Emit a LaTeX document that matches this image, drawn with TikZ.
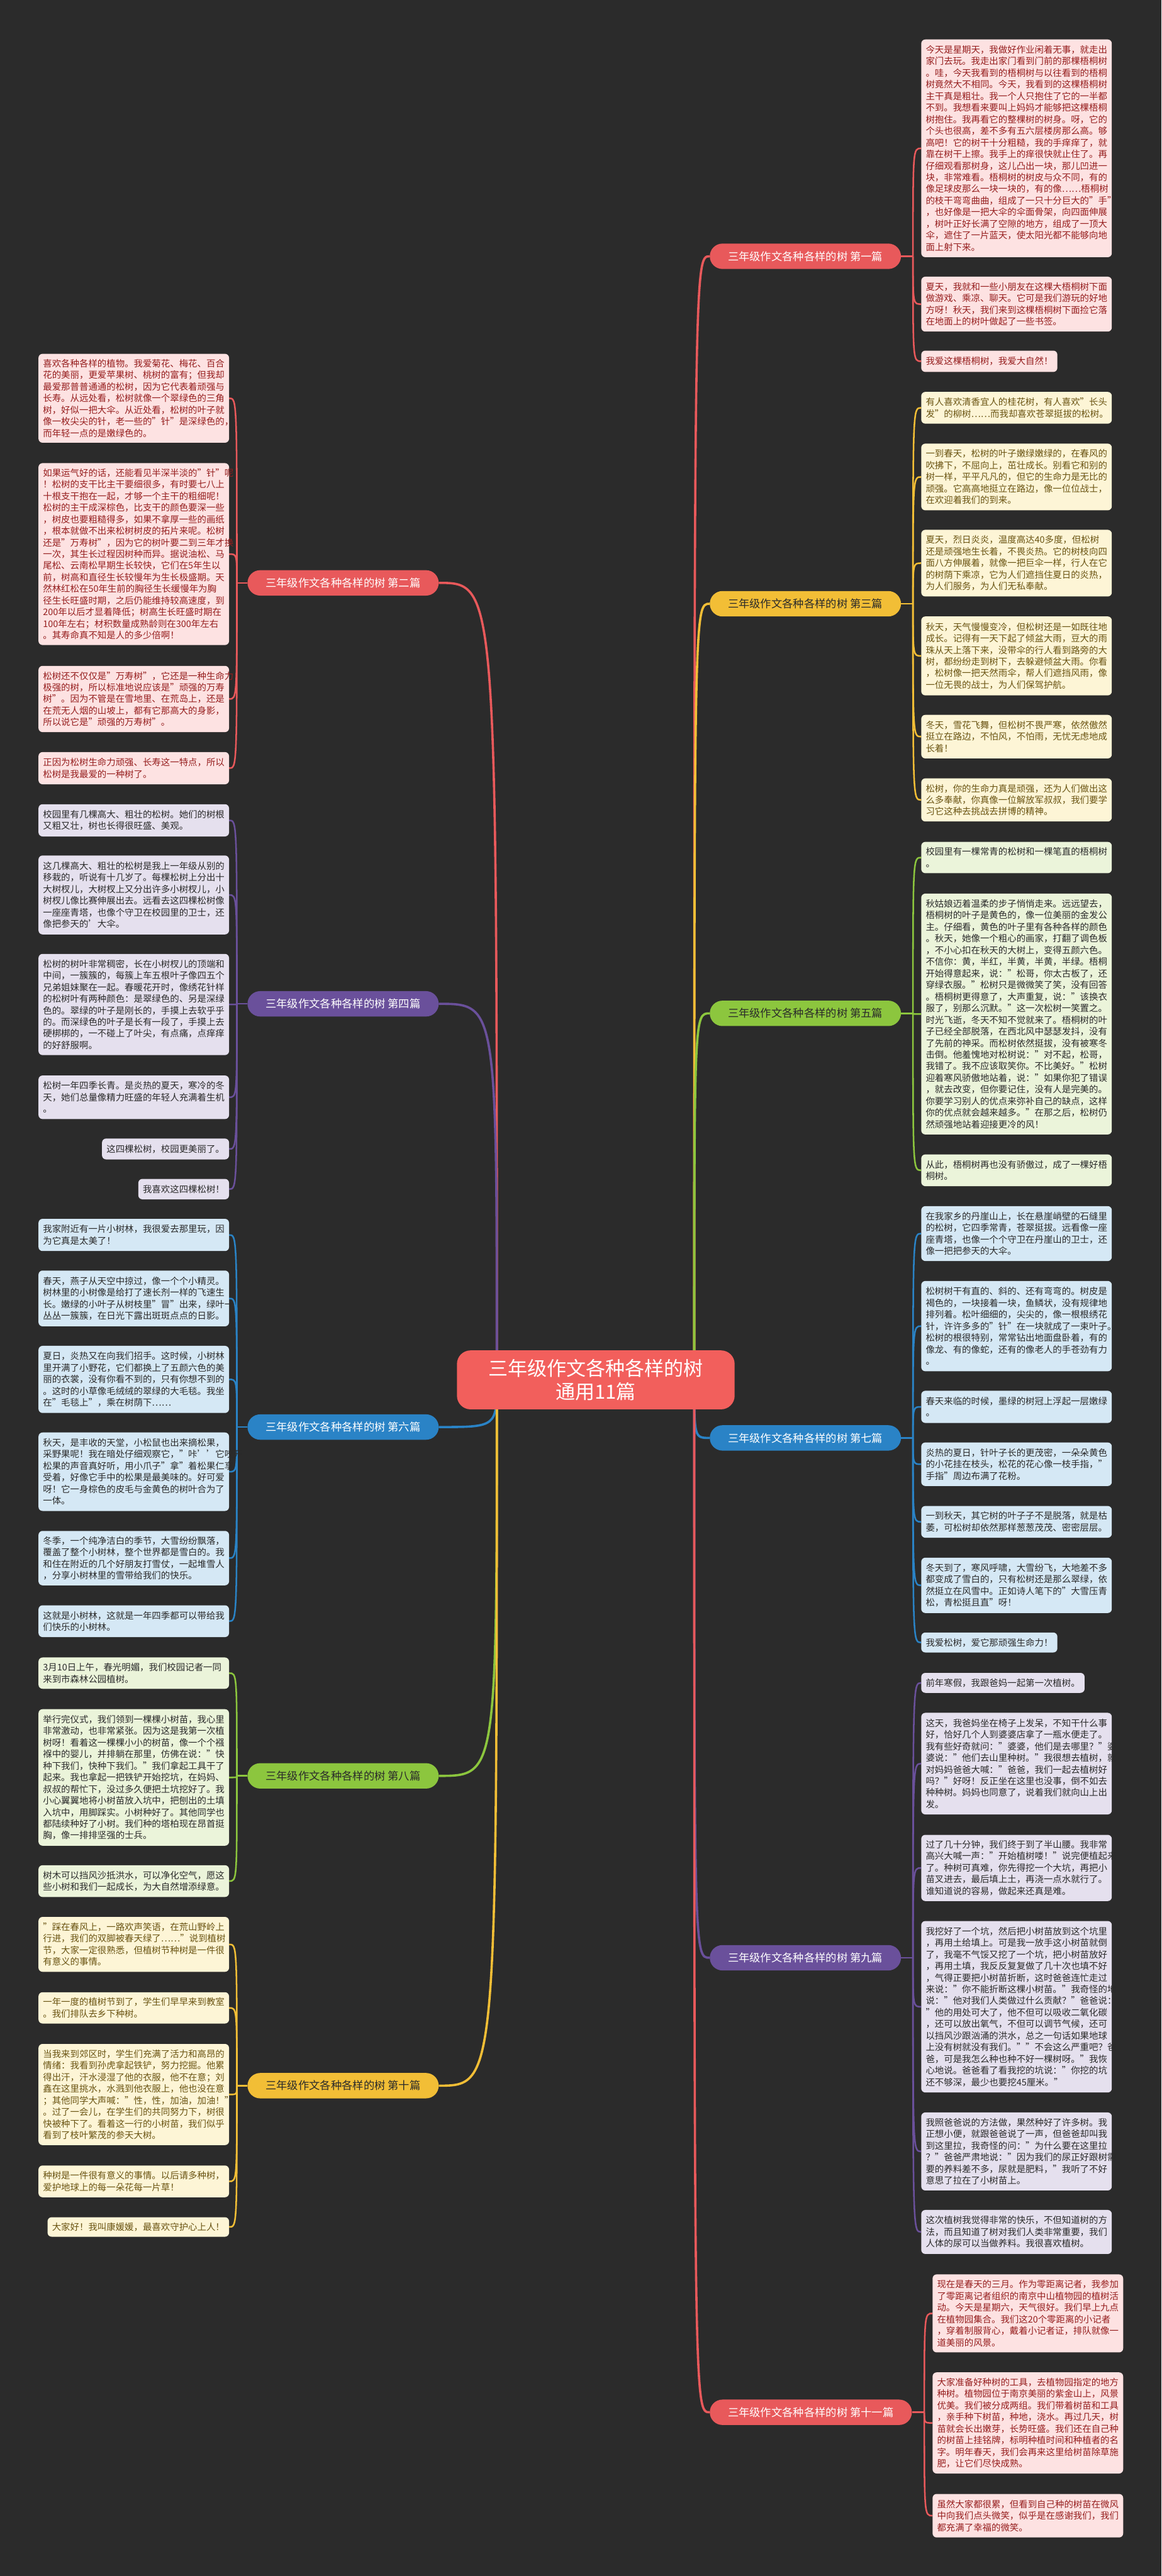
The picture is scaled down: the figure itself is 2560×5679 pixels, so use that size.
\documentclass[tikz,border=0pt]{standalone}
\usepackage{fontspec}
\setmainfont{Noto Sans CJK SC}
\definecolor{bg}{HTML}{2B2B2B}
\definecolor{cred}{HTML}{E8595B}
\definecolor{cyel}{HTML}{F2BE36}
\definecolor{cgrn}{HTML}{8CC63E}
\definecolor{cblu}{HTML}{2A83C6}
\definecolor{cpur}{HTML}{6A509B}
\definecolor{fred}{HTML}{FDE2E2}
\definecolor{fyel}{HTML}{FDF5D6}
\definecolor{fgrn}{HTML}{EBF4DA}
\definecolor{fblu}{HTML}{D5E8F5}
\definecolor{fpur}{HTML}{E5E0EE}
\definecolor{tred}{HTML}{961E1E}
\definecolor{tyel}{HTML}{6A5412}
\definecolor{tdark}{HTML}{2A2A2A}
\definecolor{rootc}{HTML}{F25F5C}
\pgfdeclarelayer{back}
\pgfdeclarelayer{conn}
\pgfsetlayers{back,conn,main}
\tikzset{
  tb/.style={rounded corners=9pt, inner xsep=10pt, inner ysep=2pt, align=left, font=\fontsize{20}{25.6}\selectfont},
  wide/.style={text width=400pt},
  redb/.style={tb, fill=fred, text=tred},
  yelb/.style={tb, fill=fyel, text=tyel},
  grnb/.style={tb, fill=fgrn, text=tdark},
  blub/.style={tb, fill=fblu, text=tdark},
  purb/.style={tb, fill=fpur, text=tdark},
  brn/.style={rounded corners=28pt, minimum height=56pt, inner xsep=40pt, inner ysep=0pt, font=\fontsize{24}{28}\selectfont},
  brred/.style={brn, fill=cred, text=white},
  bryel/.style={brn, fill=cyel, text=tdark},
  brgrn/.style={brn, fill=cgrn, text=tdark},
  brblu/.style={brn, fill=cblu, text=white},
  brpur/.style={brn, fill=cpur, text=white},
  lk/.style={line width=3.5pt},
  mainlk/.style={line width=5pt},
}
\newcommand{\BX}[7]{\node[#1,anchor=#2,minimum height={#6-#5}] (#3) at (#4,{(#5+#6)/2}) {#7};}
\newcommand{\CN}[3]{\draw[lk,#1] (#2) .. controls (#2 |- #3) .. (#3);}
\begin{document}
\begin{tikzpicture}[x=1pt,y=-1pt]
\begin{pgfonlayer}{back}
\fill[bg] (0,0) rectangle (2560,5679);
\end{pgfonlayer}
\useasboundingbox (0,0) rectangle (2560,5679);

% root
\node[rounded corners=30pt, fill=rootc, text=white, minimum width=612pt, minimum height=130pt, align=center, font=\fontsize{43}{52}\selectfont] (root) at (1313,3042) {三年级作文各种各样的树\\通用11篇};
\coordinate (rR) at (1530,3042);
\coordinate (rL) at (1095,3042);

% branch nodes right
\node[brred, anchor=west] (n1) at (1564,565) {三年级作文各种各样的树 第一篇};
\node[bryel, anchor=west] (n3) at (1564,1331) {三年级作文各种各样的树 第三篇};
\node[brgrn, anchor=west] (n5) at (1564,2234) {三年级作文各种各样的树 第五篇};
\node[brblu, anchor=west] (n7) at (1564,3170) {三年级作文各种各样的树 第七篇};
\node[brpur, anchor=west] (n9) at (1564,4316) {三年级作文各种各样的树 第九篇};
\node[brred, anchor=west] (n11) at (1564,5318) {三年级作文各种各样的树 第十一篇};
% branch nodes left
\node[brred, anchor=east] (n2) at (967,1285) {三年级作文各种各样的树 第二篇};
\node[brpur, anchor=east] (n4) at (967,2213) {三年级作文各种各样的树 第四篇};
\node[brblu, anchor=east] (n6) at (967,3146) {三年级作文各种各样的树 第六篇};
\node[brgrn, anchor=east] (n8) at (967,3915) {三年级作文各种各样的树 第八篇};
\node[bryel, anchor=east] (n10) at (967,4598) {三年级作文各种各样的树 第十篇};

% junctions
\coordinate (j1) at (2012,565);
\coordinate (j3) at (2012,1331);
\coordinate (j5) at (2012,2234);
\coordinate (j7) at (2012,3170);
\coordinate (j9) at (2012,4316);
\coordinate (j11) at (2037,5318);
\coordinate (j2) at (522,1285);
\coordinate (j4) at (522,2213);
\coordinate (j6) at (522,3146);
\coordinate (j8) at (522,3915);
\coordinate (j10) at (522,4598);

% ---------- 第一篇 ----------
\BX{redb,wide}{west}{a1}{2030}{87}{567}{今天是星期天，我做好作业闲着无事，就走出\\家门去玩。我走出家门看到门前的那棵梧桐树\\。哇，今天我看到的梧桐树与以往看到的梧桐\\树竟然大不相同。今天，我看到的这棵梧桐树\\主干真是粗壮。我一个人只抱住了它的一半都\\不到。我想看来要叫上妈妈才能够把这棵梧桐\\树抱住。我再看它的整棵树的树身。呀，它的\\个头也很高，差不多有五六层楼房那么高。够\\高吧！它的树干十分粗糙，我的手痒痒了，就\\靠在树干上擦。我手上的痒很快就止住了。再\\仔细观看那树身，这儿凸出一块，那儿凹进一\\块，非常难看。梧桐树的树皮与众不同，有的\\像足球皮那么一块一块的，有的像……梧桐树\\的枝干弯弯曲曲，组成了一只十分巨大的"手"\\，也好像是一把大伞的伞面骨架，向四面伸展\\，树叶正好长满了空隙的地方，组成了一顶大\\伞，遮住了一片蓝天，使太阳光都不能够向地\\面上射下来。}
\BX{redb,wide}{west}{a2}{2030}{610}{731}{夏天，我就和一些小朋友在这棵大梧桐树下面\\做游戏、乘凉、聊天。它可是我们游玩的好地\\方呀！秋天，我们来到这棵梧桐树下面捡它落\\在地面上的树叶做起了一些书签。}
\BX{redb}{west}{a3}{2030}{773}{820}{我爱这棵梧桐树，我爱大自然！}

% ---------- 第三篇 ----------
\BX{yelb,wide}{west}{b1}{2030}{864}{934}{有人喜欢清香宜人的桂花树，有人喜欢"长头\\发"的柳树……而我却喜欢苍翠挺拔的松树。}
\BX{yelb,wide}{west}{b2}{2030}{978}{1125}{一到春天，松树的叶子嫩绿嫩绿的，在春风的\\吹拂下，不屈向上，茁壮成长。别看它和别的\\树一样，平平凡凡的，但它的生命力是无比的\\顽强。它高高地挺立在路边，像一位位战士，\\在欢迎着我们的到来。}
\BX{yelb,wide}{west}{b3}{2030}{1168}{1315}{夏天，烈日炎炎，温度高达40多度，但松树\\还是顽强地生长着，不畏炎热。它的树枝向四\\面八方伸展着，就像一把巨伞一样，行人在它\\的树荫下乘凉，它为人们遮挡住夏日的炎热，\\为人们服务，为人们无私奉献。}
\BX{yelb,wide}{west}{b4}{2030}{1359}{1533}{秋天，天气慢慢变冷，但松树还是一如既往地\\成长。记得有一天下起了倾盆大雨，豆大的雨\\珠从天上落下来，没带伞的行人看到路旁的大\\树，都纷纷走到树下，去躲避倾盆大雨。你看\\，松树像一把天然雨伞，帮人们遮挡风雨，像\\一位无畏的战士，为人们保驾护航。}
\BX{yelb,wide}{west}{b5}{2030}{1576}{1672}{冬天，雪花飞舞，但松树不畏严寒，依然傲然\\挺立在路边，不怕风，不怕雨，无忧无虑地成\\长着！}
\BX{yelb,wide}{west}{b6}{2030}{1716}{1811}{松树，你的生命力真是顽强，还为人们做出这\\么多奉献，你真像一位解放军叔叔，我们要学\\习它这种去挑战去拼博的精神。}

% ---------- 第五篇 ----------
\BX{grnb,wide}{west}{c1}{2030}{1856}{1925}{校园里有一棵常青的松树和一棵笔直的梧桐树\\。}
\BX{grnb,wide}{west}{c2}{2030}{1970}{2501}{秋姑娘迈着温柔的步子悄悄走来。远远望去，\\梧桐树的叶子是黄色的，像一位美丽的金发公\\主。仔细看，黄色的叶子里有各种各样的颜色\\。秋天，她像一个粗心的画家，打翻了调色板\\，不小心扣在秋天的大树上，变得五颜六色。\\不信你：黄，半红，半黄，半黄，半绿。梧桐\\开始得意起来，说："松哥，你太古板了，还\\穿绿衣服。"松树只是微微笑了笑，没有回答\\。梧桐树更得意了，大声重复，说："该换衣\\服了，别那么沉默。"这一次松树一笑置之。\\时光飞逝，冬天不知不觉就来了。梧桐树的叶\\子已经全部脱落，在西北风中瑟瑟发抖，没有\\了先前的神采。而松树依然挺拔，没有被寒冬\\击倒。他羞愧地对松树说："对不起，松哥，\\我错了。我不应该取笑你。不比美好。"松树\\迎着寒风骄傲地站着，说："如果你犯了错误\\，就去改变，但你要记住，没有人是完美的。\\你要学习别人的优点来弥补自己的缺点，这样\\你的优点就会越来越多。"在那之后，松树仍\\然顽强地站着迎接更冷的风！}
\BX{grnb,wide}{west}{c3}{2030}{2545}{2615}{从此，梧桐树再也没有骄傲过，成了一棵好梧\\桐树。}

% ---------- 第七篇 ----------
\BX{blub,wide}{west}{d1}{2030}{2659}{2780}{在我家乡的丹崖山上，长在悬崖峭壁的石缝里\\的松树，它四季常青，苍翠挺拔。远看像一座\\座青塔，也像一个个守卫在丹崖山的卫士，还\\像一把把参天的大伞。}
\BX{blub,wide}{west}{d2}{2030}{2824}{3023}{松树树干有直的、斜的、还有弯弯的。树皮是\\褐色的，一块接着一块，鱼鳞状，没有规律地\\排列着。松叶细细的，尖尖的，像一根根绣花\\针，许许多多的"针"在一块就成了一束叶子。\\松树的根很特别，常常钻出地面盘卧着，有的\\像龙、有的像蛇，还有的像老人的手苍劲有力\\。}
\BX{blub,wide}{west}{d3}{2030}{3066}{3137}{春天来临的时候，墨绿的树冠上浮起一层嫩绿\\。}
\BX{blub,wide}{west}{d4}{2030}{3180}{3276}{炎热的夏日，针叶子长的更茂密，一朵朵黄色\\的小花挂在枝头，松花的花心像一枝手指，"\\手指"周边布满了花粉。}
\BX{blub,wide}{west}{d5}{2030}{3320}{3390}{一到秋天，其它树的叶子子不是脱落，就是枯\\萎，可松树却依然那样葱葱茂茂、密密层层。}
\BX{blub,wide}{west}{d6}{2030}{3434}{3556}{冬天到了，寒风呼啸，大雪纷飞，大地差不多\\都变成了雪白的，只有松树还是那么翠绿，依\\然挺立在风雪中。正如诗人笔下的"大雪压青\\松，青松挺且直"呀！}
\BX{blub}{west}{d7}{2030}{3599}{3643}{我爱松树，爱它那顽强生命力！}

% ---------- 第九篇 ----------
\BX{purb}{west}{e1}{2030}{3688}{3732}{前年寒假，我跟爸妈一起第一次植树。}
\BX{purb,wide}{west}{e2}{2030}{3776}{4000}{这天，我爸妈坐在椅子上发呆，不知干什么事\\好，恰好几个人到婆婆店拿了一瓶水便走了。\\我有些好奇就问："婆婆，他们是去哪里？"婆\\婆说："他们去山里种树。"我很想去植树，就\\对妈妈爸爸大喊："爸爸，我们一起去植树好\\吗？"好呀！反正坐在这里也没事，倒不如去\\种种树。妈妈也同意了，说着我们就向山上出\\发。}
\BX{purb,wide}{west}{e3}{2030}{4045}{4191}{过了几十分钟，我们终于到了半山腰。我非常\\高兴大喊一声："开始植树喽！"说完便植起来\\了。种树可真难，你先得挖一个大坑，再把小\\苗叉进去，最后填上土，再浇一点水就行了。\\谁知道说的容易，做起来还真是难。}
\BX{purb,wide}{west}{e4}{2030}{4235}{4613}{我挖好了一个坑，然后把小树苗放到这个坑里\\，再用土给填上。可是我一放手这小树苗就倒\\了，我毫不气馁又挖了一个坑，把小树苗放好\\，再用土填，我反反复复做了几十次也填不好\\，气得正要把小树苗折断，这时爸爸连忙走过\\来说："你不能折断这棵小树苗。"我奇怪的地\\说："他对我们人类做过什么贡献？"爸爸说：\\"他的用处可大了，他不但可以吸收二氧化碳\\，还可以放出氧气，不但可以调节气候，还可\\以挡风沙跟汹涌的洪水，总之一句话如果地球\\上没有树就没有我们。""不会这么严重吧？爸\\爸，可是我怎么种也种不好一棵树呀。"我恢\\心地说。爸爸看了看我挖的坑说："你挖的坑\\还不够深，最少也要挖45厘米。"}
\BX{purb,wide}{west}{e5}{2030}{4657}{4829}{我照爸爸说的方法做，果然种好了许多树。我\\正想小便，就跟爸爸说了一声，但爸爸却叫我\\到这里拉，我奇怪的问："为什么要在这里拉\\？"爸爸严肃地说："因为我们的尿正好跟树需\\要的养料差不多，尿就是肥料，"我听了不好\\意思了拉在了小树苗上。}
\BX{purb,wide}{west}{e6}{2030}{4872}{4969}{这次植树我觉得非常的快乐，不但知道树的方\\法，而且知道了树对我们人类非常重要，我们\\人体的尿可以当做养料。我很喜欢植树。}

% ---------- 第十一篇 ----------
\BX{redb,wide}{west}{f1}{2055}{5014}{5186}{现在是春天的三月。作为零距离记者，我参加\\了零距离记者组织的南京中山植物园的植树活\\动。今天是星期六，天气很好。我们早上九点\\在植物园集合。我们这20个零距离的小记者\\，穿着制服背心，戴着小记者证，排队就像一\\道美丽的风景。}
\BX{redb,wide}{west}{f2}{2055}{5230}{5453}{大家准备好种树的工具，去植物园指定的地方\\种树。植物园位于南京美丽的紫金山上，风景\\优美。我们被分成两组。我们带着树苗和工具\\，亲手种下树苗，种地，浇水。再过几天，树\\苗就会长出嫩芽，长势旺盛。我们还在自己种\\的树苗上挂铭牌，标明种植时间和种植者的名\\字。明年春天，我们会再来这里给树苗除草施\\肥，让它们尽快成熟。}
\BX{redb,wide}{west}{f3}{2055}{5498}{5594}{虽然大家都很累，但看到自己种的树苗在微风\\中向我们点头微笑，似乎是在感谢我们，我们\\都充满了幸福的微笑。}

% ---------- 第二篇 ----------
\BX{redb,wide}{east}{g1}{505}{780}{976}{喜欢各种各样的植物。我爱菊花、梅花、百合\\花的美丽，更爱苹果树、桃树的富有；但我却\\最爱那普普通通的松树，因为它代表着顽强与\\长寿。从远处看，松树就像一个翠绿色的三角\\树，好似一把大伞。从近处看，松树的叶子就\\像一枚尖尖的针，老一些的"针"是深绿色的，\\而年轻一点的是嫩绿色的。}
\BX{redb,wide}{east}{g2}{505}{1021}{1422}{如果运气好的话，还能看见半深半淡的"针"呢\\！松树的支干比主干要细很多，有时要七八上\\十根支干抱在一起，才够一个主干的粗细呢！\\松树的主干成深棕色，比支干的颜色要深一些\\，树皮也要粗糙得多，如果不拿厚一些的画纸\\，根本就做不出来松树树皮的拓片来呢。松树\\还是"万寿树"，因为它的树叶要二到三年才换\\一次，其生长过程因树种而异。据说油松、马\\尾松、云南松早期生长较快，它们在5年生以\\前，树高和直径生长较慢年为生长极盛期。天\\然林红松在50年生前的胸径生长缓慢年为胸\\径生长旺盛时期，之后仍能维持较高速度，到\\200年以后才显着降低；树高生长旺盛时期在\\100年左右；材积数量成熟龄则在300年左右\\。其寿命真不知是人的多少倍啊！}
\BX{redb,wide}{east}{g3}{505}{1468}{1614}{松树还不仅仅是"万寿树"，它还是一种生命力\\极强的树，所以标准地说应该是"顽强的万寿\\树"。因为不管是在雪地里、在荒岛上，还是\\在荒无人烟的山坡上，都有它那高大的身影，\\所以说它是"顽强的万寿树"。}
\BX{redb,wide}{east}{g4}{505}{1658}{1729}{正因为松树生命力顽强、长寿这一特点，所以\\松树是我最爱的一种树了。}

% ---------- 第四篇 ----------
\BX{purb,wide}{east}{h1}{505}{1773}{1844}{校园里有几棵高大、粗壮的松树。她们的树根\\又粗又壮，树也长得很旺盛、美观。}
\BX{purb,wide}{east}{h2}{505}{1886}{2060}{这几棵高大、粗壮的松树是我上一年级从别的\\移栽的，听说有十几岁了。每棵松树上分出十\\大树杈儿，大树杈上又分出许多小树杈儿，小\\树杈儿像比赛伸展出去。远看去这四棵松树像\\一座座青塔，也像个守卫在校园里的卫士，还\\像把参天的'大伞。}
\BX{purb,wide}{east}{h3}{505}{2103}{2326}{松树的树叶非常稠密，长在小树杈儿的顶端和\\中间，一簇簇的，每簇上车五根叶子像四五个\\兄弟姐妹聚在一起。春暖花开时，像绣花针样\\的松树叶有两种颜色：是翠绿色的、另是深绿\\色的。翠绿的叶子是刚长的，手摸上去软乎乎\\的。而深绿色的叶子是长有一段了，手摸上去\\硬梆梆的，一不碰上了叶尖，有点痛，点痒痒\\的好舒服啊。}
\BX{purb,wide}{east}{h4}{505}{2371}{2467}{松树一年四季长青。是炎热的夏天，寒冷的冬\\天，她们总量像精力旺盛的年轻人充满着生机\\。}
\BX{purb}{east}{h5}{505}{2510}{2556}{这四棵松树，校园更美丽了。}
\BX{purb}{east}{h6}{505}{2599}{2644}{我喜欢这四棵松树！}

% ---------- 第六篇 ----------
\BX{blub,wide}{east}{k1}{505}{2687}{2758}{我家附近有一片小树林，我很爱去那里玩，因\\为它真是太美了！}
\BX{blub,wide}{east}{k2}{505}{2801}{2924}{春天，燕子从天空中掠过，像一个个小精灵。\\树林里的小树像是给打了速长剂一样的飞速生\\长。嫩绿的小叶子从树枝里"冒"出来，绿叶一\\丛丛一簇簇，在日光下露出斑斑点点的日影。}
\BX{blub,wide}{east}{k3}{505}{2967}{3115}{夏日，炎热又在向我们招手。这时候，小树林\\里开满了小野花，它们都换上了五颜六色的美\\丽的衣裳，没有你看不到的，只有你想不到的\\。这时的小草像毛绒绒的翠绿的大毛毯。我坐\\在"毛毯上"，乘在树荫下……}
\BX{blub,wide}{east}{k4}{505}{3158}{3331}{秋天，是丰收的天堂，小松鼠也出来摘松果，\\采野果呢！我在暗处仔细观察它，"咔{'}{'}它咬开\\松果的声音真好听，用小爪子"拿"着松果仁享\\受着，好像它手中的松果是最美味的。好可爱\\呀！它一身棕色的皮毛与金黄色的树叶合为了\\一体。}
\BX{blub,wide}{east}{k5}{505}{3375}{3495}{冬季，一个纯净洁白的季节，大雪纷纷飘落，\\覆盖了整个小树林，整个世界都是雪白的。我\\和住在附近的几个好朋友打雪仗，一起堆雪人\\，分享小树林里的雪带给我们的快乐。}
\BX{blub,wide}{east}{k6}{505}{3539}{3609}{这就是小树林，这就是一年四季都可以带给我\\们快乐的小树林。}

% ---------- 第八篇 ----------
\BX{grnb,wide}{east}{m1}{505}{3654}{3723}{3月10日上午，春光明媚，我们校园记者一同\\来到市森林公园植树。}
\BX{grnb,wide}{east}{m2}{505}{3768}{4069}{举行完仪式，我们领到一棵棵小树苗，我心里\\非常激动，也非常紧张。因为这是我第一次植\\树呀！看着这一棵棵小小的树苗，像一个个襁\\褓中的婴儿，并排躺在那里，仿佛在说："快\\种下我们，快种下我们。"我们拿起工具干了\\起来。我也拿起一把铁铲开始挖坑，在妈妈、\\叔叔的帮忙下，没过多久便把土坑挖好了。我\\小心翼翼地将小树苗放入坑中，把刨出的土填\\入坑中，用脚踩实。小树种好了。其他同学也\\都陆续种好了小树。我们种的塔柏现在昂首挺\\胸，像一排排坚强的士兵。}
\BX{grnb,wide}{east}{m3}{505}{4112}{4182}{树木可以挡风沙抵洪水，可以净化空气，愿这\\些小树和我们一起成长，为大自然增添绿意。}

% ---------- 第十篇 ----------
\BX{yelb,wide}{east}{p1}{505}{4226}{4347}{"踩在春风上，一路欢声笑语，在荒山野岭上\\行进，我们的双脚被春天绿了……"说到植树\\节，大家一定很熟悉，但植树节种树是一件很\\有意义的事情。}
\BX{yelb,wide}{east}{p2}{505}{4392}{4461}{一年一度的植树节到了，学生们早早来到教室\\。我们排队去乡下种树。}
\BX{yelb,wide}{east}{p3}{505}{4506}{4729}{当我来到郊区时，学生们充满了活力和高昂的\\情绪：我看到孙虎拿起铁铲，努力挖掘。他累\\得出汗，汗水浸湿了他的衣服，他不在意；刘\\鑫在这里挑水，水溅到他衣服上，他也没在意\\；其他同学大声喊："性，性，加油，加油！"\\。过了一会儿，在学生们的共同努力下，树很\\快被种下了。看着这一行的小树苗，我们似乎\\看到了枝叶繁茂的参天大树。}
\BX{yelb,wide}{east}{p4}{505}{4774}{4844}{种树是一件很有意义的事情。以后请多种树，\\爱护地球上的每一朵花每一片草！}
\BX{yelb}{east}{p5}{505}{4888}{4931}{大家好！我叫康媛媛，最喜欢守护心上人！}

% ---------- connectors ----------
\begin{pgfonlayer}{conn}
\draw[mainlk,cred] (rR) .. controls (rR |- n1.west) .. (n1.west);
\draw[mainlk,cyel] (rR) .. controls (rR |- n3.west) .. (n3.west);
\draw[mainlk,cgrn] (rR) .. controls (rR |- n5.west) .. (n5.west);
\draw[mainlk,cblu] (rR) .. controls (rR |- n7.west) .. (n7.west);
\draw[mainlk,cpur] (rR) .. controls (rR |- n9.west) .. (n9.west);
\draw[mainlk,cred] (rR) .. controls (rR |- n11.west) .. (n11.west);
\draw[mainlk,cred] (rL) .. controls (rL |- n2.east) .. (n2.east);
\draw[mainlk,cpur] (rL) .. controls (rL |- n4.east) .. (n4.east);
\draw[mainlk,cblu] (rL) .. controls (rL |- n6.east) .. (n6.east);
\draw[mainlk,cgrn] (rL) .. controls (rL |- n8.east) .. (n8.east);
\draw[mainlk,cyel] (rL) .. controls (rL |- n10.east) .. (n10.east);
% branch stubs
\draw[lk,cred] (n1.east) -- (j1);
\draw[lk,cyel] (n3.east) -- (j3);
\draw[lk,cgrn] (n5.east) -- (j5);
\draw[lk,cblu] (n7.east) -- (j7);
\draw[lk,cpur] (n9.east) -- (j9);
\draw[lk,cred] (n11.east) -- (j11);
\draw[lk,cred] (n2.west) -- (j2);
\draw[lk,cpur] (n4.west) -- (j4);
\draw[lk,cblu] (n6.west) -- (j6);
\draw[lk,cgrn] (n8.west) -- (j8);
\draw[lk,cyel] (n10.west) -- (j10);
% leaves
\foreach \b in {a1,a2,a3} {\CN{cred}{j1}{\b.west}}
\foreach \b in {b1,b2,b3,b4,b5,b6} {\CN{cyel}{j3}{\b.west}}
\foreach \b in {c1,c2,c3} {\CN{cgrn}{j5}{\b.west}}
\foreach \b in {d1,d2,d3,d4,d5,d6,d7} {\CN{cblu}{j7}{\b.west}}
\foreach \b in {e1,e2,e3,e4,e5,e6} {\CN{cpur}{j9}{\b.west}}
\foreach \b in {f1,f2,f3} {\CN{cred}{j11}{\b.west}}
\foreach \b in {g1,g2,g3,g4} {\CN{cred}{j2}{\b.east}}
\foreach \b in {h1,h2,h3,h4,h5,h6} {\CN{cpur}{j4}{\b.east}}
\foreach \b in {k1,k2,k3,k4,k5,k6} {\CN{cblu}{j6}{\b.east}}
\foreach \b in {m1,m2,m3} {\CN{cgrn}{j8}{\b.east}}
\foreach \b in {p1,p2,p3,p4,p5} {\CN{cyel}{j10}{\b.east}}
\end{pgfonlayer}
\end{tikzpicture}
\end{document}
